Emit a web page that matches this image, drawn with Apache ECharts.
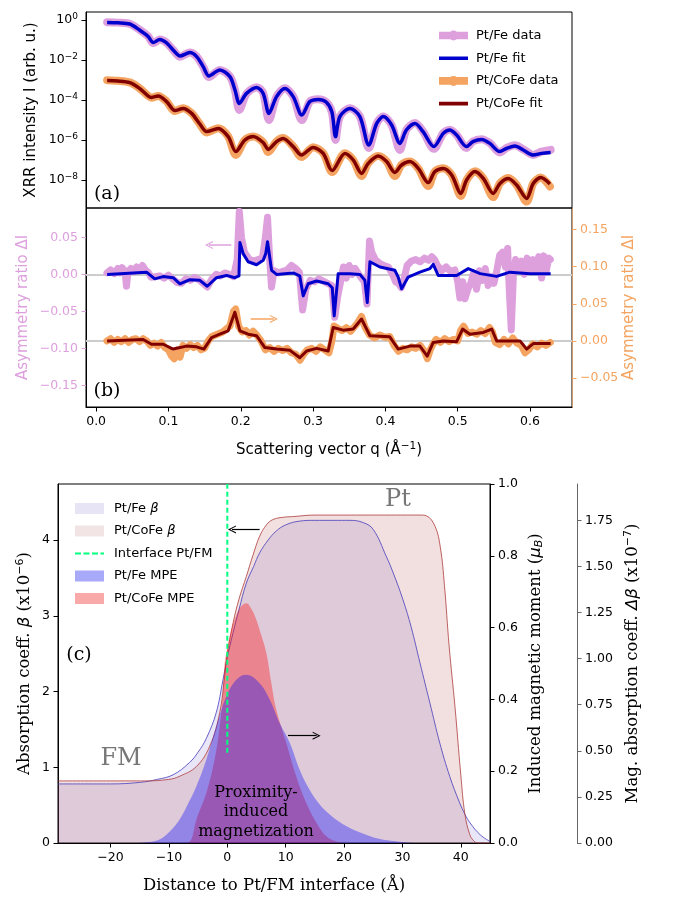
<!DOCTYPE html>
<html>
<head>
<meta charset="utf-8">
<script src="https://cdn.jsdelivr.net/npm/echarts@6/dist/echarts.min.js"></script>
<style>
  html, body { margin: 0; padding: 0; background: #fff; }
  #main { width: 678px; height: 897px; }
</style>
</head>
<body>
<div id="main"></div>
<script>
// ---------- (a) XRR curves : [q (1/Å), intensity] ----------
const feFitA = [[0.0152,0.759],[0.03,0.724],[0.0466,0.631],[0.060,0.316],[0.072,0.148],[0.079,0.0741],[0.088,0.107],[0.097,0.0741],[0.1065,0.0316],[0.116,0.0158],[0.1296,0.0234],[0.139,0.0148],[0.148,4.68e-3],[0.156,1.58e-3],[0.171,3.16e-3],[0.185,1.48e-3],[0.192,3.16e-4],[0.198,6.76e-5],[0.208,2.14e-4],[0.222,4.27e-4],[0.231,2.14e-4],[0.239,2.14e-5],[0.2495,1.48e-4],[0.261,3.80e-4],[0.2725,1.48e-4],[0.2845,1.78e-5],[0.2956,8.32e-5],[0.307,1.07e-4],[0.318,7.94e-5],[0.326,2.51e-5],[0.331,1.48e-6],[0.337,1.48e-5],[0.351,3.80e-5],[0.3647,1.48e-5],[0.377,5.62e-7],[0.388,6.76e-6],[0.397,1.48e-5],[0.4086,5.62e-6],[0.42,6.76e-7],[0.429,3.16e-6],[0.441,6.76e-6],[0.452,2.63e-6],[0.467,4.68e-7],[0.48,2.14e-6],[0.489,3.16e-6],[0.4985,1.78e-6],[0.512,4.68e-7],[0.521,8.32e-7],[0.533,1.07e-6],[0.5445,6.76e-7],[0.558,2.63e-7],[0.5676,3.80e-7],[0.579,5.01e-7],[0.5906,3.16e-7],[0.6044,1.78e-7],[0.616,2.14e-7],[0.6285,2.34e-7]];
const feDataA = [[0.0152,0.78],[0.03,0.74],[0.0466,0.64],[0.060,0.33],[0.072,0.15],[0.079,0.07],[0.088,0.105],[0.097,0.075],[0.1065,0.032],[0.116,0.0145],[0.1296,0.024],[0.139,0.015],[0.148,4.6e-3],[0.156,1.4e-3],[0.171,3.2e-3],[0.185,1.5e-3],[0.192,3.0e-4],[0.198,3.2e-5],[0.208,2.1e-4],[0.222,4.4e-4],[0.231,2.2e-4],[0.239,1.0e-5],[0.2495,1.5e-4],[0.261,3.9e-4],[0.2725,1.5e-4],[0.2845,1.0e-5],[0.2956,8.5e-5],[0.307,1.1e-4],[0.318,8.0e-5],[0.326,2.4e-5],[0.331,1.0e-6],[0.337,1.5e-5],[0.351,3.9e-5],[0.3647,1.5e-5],[0.377,4.0e-7],[0.388,6.8e-6],[0.397,1.5e-5],[0.4086,5.5e-6],[0.42,3.2e-7],[0.429,3.2e-6],[0.441,7.0e-6],[0.452,2.7e-6],[0.467,3.6e-7],[0.48,2.2e-6],[0.489,3.3e-6],[0.4985,1.8e-6],[0.512,4.0e-7],[0.521,8.5e-7],[0.533,1.1e-6],[0.5445,7.0e-7],[0.558,2.4e-7],[0.5676,4.0e-7],[0.579,5.4e-7],[0.5906,3.4e-7],[0.6044,1.8e-7],[0.616,2.6e-7],[0.6285,3.2e-7]];
const coFitA = [[0.0152,9.33e-4],[0.03,8.91e-4],[0.0466,7.41e-4],[0.060,3.80e-4],[0.072,1.58e-4],[0.0766,1.35e-4],[0.0858,1.58e-4],[0.0974,8.32e-5],[0.1089,2.95e-5],[0.1203,3.80e-5],[0.132,2.14e-5],[0.1434,6.31e-6],[0.1527,2.63e-6],[0.1688,3.80e-6],[0.1826,1.48e-6],[0.1932,2.63e-7],[0.2057,1.0e-6],[0.2172,1.48e-6],[0.231,7.41e-7],[0.238,3.39e-7],[0.2495,8.32e-7],[0.2586,1.20e-6],[0.2725,4.68e-7],[0.284,1.78e-7],[0.300,4.27e-7],[0.314,2.14e-7],[0.3264,2.95e-8],[0.344,2.14e-7],[0.3555,1.0e-7],[0.367,2.14e-8],[0.3762,6.76e-8],[0.39,1.58e-7],[0.4017,8.32e-8],[0.4131,2.40e-8],[0.4224,5.62e-8],[0.4339,8.32e-8],[0.4454,3.80e-8],[0.4592,7.41e-9],[0.4685,2.63e-8],[0.48,3.80e-8],[0.4916,1.78e-8],[0.5044,2.14e-9],[0.5123,1.0e-8],[0.5238,2.63e-8],[0.5353,1.20e-8],[0.549,2.14e-9],[0.5584,6.76e-9],[0.5699,1.20e-8],[0.5815,5.62e-9],[0.5953,1.20e-9],[0.6044,6.76e-9],[0.6147,1.32e-8],[0.6275,6.31e-9]];
const coDataA = [[0.0152,9.8e-4],[0.03,9.2e-4],[0.0466,7.6e-4],[0.060,3.9e-4],[0.072,1.6e-4],[0.0766,1.3e-4],[0.0858,1.6e-4],[0.0974,8.5e-5],[0.1089,2.8e-5],[0.1203,3.9e-5],[0.132,2.2e-5],[0.1434,6.3e-6],[0.1527,2.4e-6],[0.1688,3.9e-6],[0.1826,1.5e-6],[0.1932,1.8e-7],[0.2057,1.0e-6],[0.2172,1.5e-6],[0.231,7.6e-7],[0.238,2.5e-7],[0.2495,8.5e-7],[0.2586,1.25e-6],[0.2725,4.8e-7],[0.284,1.4e-7],[0.300,4.4e-7],[0.314,2.2e-7],[0.3264,2.5e-8],[0.344,2.2e-7],[0.3555,1.0e-7],[0.367,1.6e-8],[0.3762,7.0e-8],[0.39,1.6e-7],[0.4017,8.5e-8],[0.4131,1.6e-8],[0.4224,5.8e-8],[0.4339,8.5e-8],[0.4454,3.8e-8],[0.4592,5.0e-9],[0.4685,2.7e-8],[0.48,3.9e-8],[0.4916,1.8e-8],[0.5044,1.6e-9],[0.5123,1.0e-8],[0.5238,2.7e-8],[0.5353,1.2e-8],[0.549,1.4e-9],[0.5584,6.8e-9],[0.5699,1.25e-8],[0.5815,5.6e-9],[0.5953,8.3e-10],[0.6044,6.8e-9],[0.6147,1.35e-8],[0.6275,4.7e-9]];

// ---------- (b) asymmetry ratio : [q, ΔI] ----------
const feFitB = [[0.0152,0.0],[0.0697,0.003],[0.081,-0.006],[0.0927,-0.003],[0.1065,-0.0045],[0.1158,-0.0127],[0.1296,-0.0072],[0.1434,-0.008],[0.1536,-0.016],[0.1665,-0.0045],[0.1804,-0.0014],[0.1918,-0.0045],[0.1975,-0.002],[0.1988,0.043],[0.2033,0.028],[0.2102,0.017],[0.2218,0.013],[0.231,0.019],[0.2345,0.028],[0.237,0.044],[0.2426,0.0055],[0.2495,0.0],[0.2725,0.002],[0.2815,-0.002],[0.2863,-0.029],[0.2932,-0.0127],[0.3048,-0.009],[0.3209,-0.0127],[0.3265,-0.018],[0.3292,-0.056],[0.3347,0.001],[0.351,0.001],[0.3647,0.0],[0.3716,-0.008],[0.3749,-0.038],[0.3786,0.017],[0.3924,0.010],[0.4131,0.0055],[0.4177,-0.0036],[0.4224,-0.0195],[0.4315,-0.0036],[0.4477,0.003],[0.4615,0.0078],[0.4661,0.0136],[0.473,-0.0014],[0.4985,-0.0014],[0.5145,0.0078],[0.531,0.001],[0.5538,-0.0027],[0.572,0.003],[0.5999,0.001],[0.6285,0.001]];
const feDataB = [[0.015,0.002],[0.020,0.006],[0.025,0.001],[0.030,0.008],[0.033,0.002],[0.036,0.009],[0.040,0.004],[0.042,-0.016],[0.044,0.003],[0.048,0.008],[0.052,0.004],[0.056,0.010],[0.060,0.005],[0.064,0.012],[0.068,0.006],[0.072,0.003],[0.076,-0.004],[0.082,-0.003],[0.088,-0.002],[0.094,-0.005],[0.100,-0.001],[0.106,-0.006],[0.112,-0.011],[0.118,-0.012],[0.124,-0.006],[0.130,-0.008],[0.136,-0.004],[0.142,-0.007],[0.148,-0.012],[0.154,-0.017],[0.160,-0.006],[0.166,0.000],[0.172,-0.002],[0.178,0.002],[0.184,0.000],[0.190,-0.003],[0.195,0.020],[0.198,0.085],[0.201,0.050],[0.205,0.030],[0.212,0.020],[0.218,0.018],[0.224,0.020],[0.230,0.022],[0.234,0.050],[0.237,0.077],[0.240,0.020],[0.2425,-0.017],[0.246,0.005],[0.252,0.002],[0.258,0.004],[0.264,0.006],[0.270,0.012],[0.276,0.008],[0.281,0.003],[0.2855,-0.048],[0.290,-0.020],[0.296,-0.008],[0.302,-0.010],[0.308,-0.006],[0.314,-0.009],[0.320,-0.012],[0.326,-0.015],[0.330,-0.058],[0.334,-0.030],[0.338,-0.010],[0.342,0.010],[0.346,-0.005],[0.350,0.012],[0.354,0.000],[0.358,0.008],[0.362,0.002],[0.366,-0.004],[0.371,-0.010],[0.3745,-0.040],[0.378,0.045],[0.381,0.030],[0.386,0.020],[0.392,0.015],[0.398,0.012],[0.404,0.010],[0.410,0.000],[0.414,-0.010],[0.418,-0.012],[0.422,-0.018],[0.426,-0.005],[0.430,0.012],[0.436,0.018],[0.442,0.020],[0.448,0.017],[0.454,0.022],[0.460,0.019],[0.464,0.024],[0.468,0.020],[0.472,0.012],[0.478,0.005],[0.484,0.010],[0.490,0.004],[0.496,0.006],[0.500,-0.010],[0.503,-0.032],[0.507,-0.010],[0.510,-0.033],[0.514,-0.020],[0.518,-0.012],[0.522,0.002],[0.526,-0.020],[0.530,0.005],[0.534,-0.008],[0.538,0.008],[0.542,-0.015],[0.546,-0.003],[0.550,-0.012],[0.554,0.005],[0.558,0.026],[0.562,0.030],[0.566,0.010],[0.569,0.035],[0.571,-0.015],[0.574,-0.075],[0.577,0.000],[0.580,0.020],[0.584,0.006],[0.588,0.018],[0.592,0.000],[0.596,0.022],[0.600,0.004],[0.604,0.020],[0.608,0.006],[0.612,0.024],[0.616,-0.005],[0.619,0.025],[0.622,0.003],[0.626,0.022],[0.628,0.020]];
const coFitB = [[0.0152,0.0],[0.065,0.002],[0.0766,-0.0045],[0.0927,-0.0045],[0.1065,-0.011],[0.125,-0.007],[0.1389,-0.008],[0.149,-0.011],[0.1596,0.0045],[0.1711,0.009],[0.1826,0.0136],[0.1918,0.0386],[0.1988,0.0136],[0.2102,0.009],[0.2218,0.007],[0.2333,-0.009],[0.2495,-0.011],[0.268,-0.0127],[0.2817,-0.0227],[0.291,-0.0136],[0.3048,-0.010],[0.3209,-0.0136],[0.3278,0.018],[0.3416,0.0145],[0.3555,0.016],[0.367,0.0295],[0.3786,0.007],[0.406,0.0055],[0.4177,-0.011],[0.4339,-0.007],[0.4477,-0.007],[0.4578,-0.0204],[0.4661,-0.002],[0.48,0.0],[0.4985,-0.001],[0.5067,0.016],[0.5168,0.009],[0.5353,0.0114],[0.547,0.016],[0.5538,0.0],[0.586,0.0],[0.5953,-0.011],[0.6044,-0.0036],[0.6285,-0.0036]];
const coDataB = [[0.015,0.000],[0.020,0.003],[0.025,-0.002],[0.030,0.002],[0.035,-0.001],[0.040,0.003],[0.045,-0.002],[0.050,0.002],[0.055,0.003],[0.060,-0.001],[0.065,0.003],[0.070,0.000],[0.075,-0.006],[0.080,-0.003],[0.085,-0.007],[0.090,-0.002],[0.095,-0.009],[0.100,-0.012],[0.104,-0.020],[0.108,-0.024],[0.112,-0.012],[0.116,-0.022],[0.120,-0.006],[0.125,-0.010],[0.130,-0.005],[0.135,-0.009],[0.140,-0.006],[0.145,-0.012],[0.150,-0.010],[0.155,0.000],[0.160,0.006],[0.165,0.008],[0.170,0.010],[0.175,0.012],[0.180,0.016],[0.185,0.020],[0.190,0.040],[0.193,0.043],[0.197,0.020],[0.202,0.012],[0.207,0.014],[0.212,0.008],[0.217,0.013],[0.222,0.008],[0.228,0.000],[0.234,-0.012],[0.240,-0.009],[0.246,-0.014],[0.252,-0.010],[0.258,-0.013],[0.264,-0.010],[0.270,-0.016],[0.276,-0.018],[0.282,-0.026],[0.287,-0.018],[0.292,-0.012],[0.298,-0.010],[0.304,-0.014],[0.310,-0.008],[0.316,-0.012],[0.322,-0.016],[0.326,0.000],[0.329,0.020],[0.334,0.017],[0.340,0.014],[0.346,0.018],[0.352,0.013],[0.358,0.020],[0.362,0.025],[0.367,0.033],[0.372,0.018],[0.378,0.008],[0.385,0.004],[0.392,0.008],[0.400,0.005],[0.406,0.006],[0.412,-0.006],[0.418,-0.014],[0.424,-0.010],[0.430,-0.012],[0.436,-0.008],[0.442,-0.010],[0.448,-0.006],[0.454,-0.014],[0.458,-0.024],[0.462,-0.012],[0.466,-0.004],[0.470,0.002],[0.476,-0.002],[0.482,0.003],[0.488,-0.001],[0.494,0.002],[0.500,0.000],[0.504,0.014],[0.508,0.020],[0.514,0.010],[0.520,0.012],[0.526,0.009],[0.532,0.014],[0.538,0.010],[0.544,0.018],[0.548,0.012],[0.552,-0.002],[0.558,-0.005],[0.564,0.002],[0.570,-0.004],[0.576,0.004],[0.582,-0.003],[0.588,-0.006],[0.593,-0.016],[0.598,-0.012],[0.604,-0.004],[0.610,-0.008],[0.616,-0.003],[0.622,-0.006],[0.628,-0.002]];

// ---------- (c) depth profiles : [distance (Å), value] ----------
const feBeta = [[-29,0.78],[-20,0.78],[-15,0.80],[-12,0.84],[-9.3,0.9],[-6.5,1.06],[-5,1.2],[-3.6,1.38],[-1.9,1.72],[-0.75,2.15],[0,2.45],[1,2.78],[2,3.08],[3.26,3.43],[4.5,3.65],[5.54,3.83],[7,4.0],[8.4,4.12],[10,4.2],[12.4,4.25],[15,4.26],[18.1,4.26],[21,4.26],[23.3,4.23],[25,4.14],[27.2,3.79],[28.5,3.55],[30.1,3.21],[31.5,2.85],[33,2.38],[34.7,1.85],[36.4,1.32],[38.1,0.88],[39.8,0.53],[40.7,0.38],[41.6,0.264],[43.3,0.11],[45,0.02]];
const coBeta = [[-29,0.82],[-20,0.82],[-14,0.82],[-10,0.84],[-8.2,0.88],[-5.3,1.01],[-3,1.28],[-1.3,1.72],[-0.46,2.2],[0,2.5],[1,2.91],[2,3.22],[3.26,3.52],[4.4,3.8],[5.54,4.05],[6.7,4.2],[7.8,4.27],[9.5,4.3],[11.3,4.31],[15,4.33],[25,4.33],[33,4.33],[34.1,4.32],[35.6,4.18],[36.5,3.9],[37.2,3.4],[38,2.6],[39,1.8],[40,0.9],[40.7,0.38],[41.5,0.12],[42.2,0.03],[43,0.0],[45,0.0]];
const feMpe = [[-29,0],[-16,0],[-13.5,0.003],[-11.6,0.01],[-10,0.03],[-8.2,0.065],[-6.7,0.11],[-5.3,0.158],[-3.6,0.232],[-1.9,0.325],[-0.17,0.408],[1.54,0.455],[3.26,0.469],[5.5,0.446],[7.26,0.40],[8.97,0.334],[10.7,0.279],[12.4,0.204],[14.1,0.148],[15.8,0.108],[17.5,0.08],[19.3,0.058],[21,0.042],[23.3,0.026],[26,0.012],[30,0.003],[33,0],[45,0]];
const coMpe = [[-29,0],[-7.5,0],[-6.4,0.004],[-5.3,0.065],[-3.6,0.139],[-2.18,0.232],[-1.3,0.325],[-0.75,0.418],[-0.46,0.5],[0.1,0.55],[0.8,0.6],[1.54,0.635],[2.4,0.66],[3.26,0.668],[4.2,0.65],[4.97,0.622],[5.8,0.58],[6.69,0.529],[7.5,0.45],[8.4,0.371],[10.1,0.279],[11.8,0.186],[13.55,0.111],[15.3,0.056],[17,0.018],[18.7,0.004],[20,0],[45,0]];
const interfaceLine = [[0, 1.19], [0, 4.74]];

// ---------- tick values ----------
const logTicks = [1e-8, 1e-6, 1e-4, 1e-2, 1];
const qTicks = [0, 0.1, 0.2, 0.3, 0.4, 0.5, 0.6];
const asymTicksL = [-0.15, -0.10, -0.05, 0, 0.05];
const asymTicksR = [-0.05, 0, 0.05, 0.10, 0.15];
const zTicks = [-20, -10, 0, 10, 20, 30, 40];
const betaTicks = [0, 1, 2, 3, 4];
const momentTicks = [0, 0.2, 0.4, 0.6, 0.8, 1.0];
const dBetaTicks = [0, 0.25, 0.5, 0.75, 1.0, 1.25, 1.5, 1.75];

const SANS = 'DejaVu Sans', SERIF = 'DejaVu Serif';
const PLUM = '#DDA0DD', BLUE = '#0000CD', SANDY = '#F4A460', MAROON = '#800000';
const chevron = 'path://M0,10L5,0L10,10L8.6,10L5,2.8L1.4,10Z';
const minus = s => s.replace('-', '\u2212');

// legend icons (tiny corner specks fix the bounding box)
const fitIcon = 'path://M0,0h0.01v0.01z M0,3.2H29V6.8H0z M0,10h0.01v-0.01z';
const dataIcon = 'path://M0,0h0.01v0.01z M0,1.2H29V8.8H0z M9.5,5a5,5 0 1,1 10,0a5,5 0 1,1 -10,0z M0,10h0.01v-0.01z';
const dashIcon = 'path://M0,0h0.01v0.01z M0,4.6H6V6.4H0z M8.5,4.6H14.5V6.4H8.5z M17,4.6H23V6.4H17z M25.5,4.6H29V6.4H25.5z M0,11h0.01v-0.01z';

function axisBase(color, ticks, fmt, lineColor) {
  return {
    nameMoveOverlap: false,
    splitLine: { show: false },
    axisLine: { show: true, onZero: false, lineStyle: { color: lineColor || color, width: 1 } },
    axisTick: { show: true, length: 4.5, customValues: ticks, lineStyle: { color: color, width: 1 } },
    axisLabel: { customValues: ticks, formatter: fmt, fontFamily: SANS, fontSize: 12.5, color: color, margin: 8,
      rich: { sup: { fontFamily: SANS, fontSize: 9, color: color, padding: [0, 0, 7, 0] } } }
  };
}

const myChart = echarts.init(document.getElementById('main'), null, { renderer: 'canvas' });

const option = {
  animation: false,
  textStyle: { fontFamily: SANS },
  grid: [
    { left: 86, top: 12, width: 486, height: 196, show: true, borderColor: '#000', borderWidth: 1 },
    { left: 86, top: 208, width: 486, height: 199, show: true, borderColor: '#000', borderWidth: 1 },
    { left: 58, top: 484, width: 432, height: 359, show: true, borderColor: '#000', borderWidth: 1 }
  ],
  xAxis: [
    { gridIndex: 0, type: 'value', min: -0.014, max: 0.658,
      axisLine: { show: false }, axisTick: { show: false }, axisLabel: { show: false }, splitLine: { show: false } },
    Object.assign({ gridIndex: 1, type: 'value', min: -0.014, max: 0.658,
      name: 'Scattering vector q (Å{sup|\u22121})', nameLocation: 'middle', nameGap: 34,
      nameTextStyle: { fontFamily: SANS, fontSize: 15, color: '#000',
        rich: { sup: { fontFamily: SANS, fontSize: 10.5, color: '#000', padding: [0, 0, 7, 0] } } } },
      axisBase('#000', qTicks, v => v.toFixed(1))),
    Object.assign({ gridIndex: 2, type: 'value', min: -29, max: 45,
      name: 'Distance to Pt/FM interface (Å)', nameLocation: 'middle', nameGap: 34,
      nameTextStyle: { fontFamily: SERIF, fontSize: 16.5, color: '#000' } },
      axisBase('#000', zTicks, v => minus(String(v))))
  ],
  yAxis: [
    Object.assign({ gridIndex: 0, type: 'log', logBase: 10, min: 3.98e-10, max: 2.512,
      name: 'XRR intensity I (arb. u.)', nameLocation: 'middle', nameRotate: 90, nameGap: 47,
      nameTextStyle: { fontFamily: SANS, fontSize: 15, color: '#000' } },
      axisBase('#000', logTicks, v => '10{sup|' + minus(String(Math.round(Math.log10(v)))) + '}')),
    Object.assign({ gridIndex: 1, type: 'value', min: -0.179, max: 0.0896,
      name: 'Asymmetry ratio \u0394I', nameLocation: 'middle', nameRotate: 90, nameGap: 55,
      nameTextStyle: { fontFamily: SANS, fontSize: 15, color: PLUM } },
      axisBase(PLUM, asymTicksL, v => minus(v.toFixed(2)), '#000')),
    Object.assign({ gridIndex: 1, type: 'value', position: 'right', min: -0.089, max: 0.179,
      name: 'Asymmetry ratio \u0394I', nameLocation: 'middle', nameRotate: 90, nameGap: 50,
      nameTextStyle: { fontFamily: SANS, fontSize: 15, color: SANDY } },
      axisBase(SANDY, asymTicksR, v => minus(v.toFixed(2)), '#d2996b')),
    Object.assign({ gridIndex: 2, type: 'value', min: 0, max: 4.74,
      name: 'Absorption coeff. {i|\u03b2} (x10{sup|\u22126})', nameLocation: 'middle', nameRotate: 90, nameGap: 24,
      nameTextStyle: { fontFamily: SERIF, fontSize: 16.5, color: '#000',
        rich: { i: { fontFamily: SANS, fontStyle: 'italic', fontSize: 16.5, color: '#000' },
                sup: { fontFamily: SANS, fontSize: 11, color: '#000', padding: [0, 0, 8, 0] } } } },
      axisBase('#000', betaTicks, v => String(v))),
    Object.assign({ gridIndex: 2, type: 'value', position: 'right', min: 0, max: 1,
      name: 'Induced magnetic moment ({i|\u03bc}{sub|B})', nameLocation: 'middle', nameRotate: 90, nameGap: 36,
      nameTextStyle: { fontFamily: SERIF, fontSize: 16.5, color: '#000',
        rich: { i: { fontFamily: SANS, fontStyle: 'italic', fontSize: 16.5, color: '#000' },
                sub: { fontFamily: SANS, fontStyle: 'italic', fontSize: 11, color: '#000', padding: [8, 0, 0, 0] } } } },
      axisBase('#000', momentTicks, v => v.toFixed(1))),
    Object.assign({ gridIndex: 2, type: 'value', position: 'right', offset: 87, min: 0, max: 1.947,
      name: 'Mag. absorption coeff. {i|\u0394\u03b2} (x10{sup|\u22127})', nameLocation: 'middle', nameRotate: 90, nameGap: 46,
      nameTextStyle: { fontFamily: SERIF, fontSize: 16.5, color: '#000',
        rich: { i: { fontFamily: SANS, fontStyle: 'italic', fontSize: 16.5, color: '#000' },
                sup: { fontFamily: SANS, fontSize: 11, color: '#000', padding: [0, 0, 8, 0] } } } },
      axisBase('#666', dBetaTicks, v => v.toFixed(2)), { axisLabel: { customValues: dBetaTicks, formatter: v => v.toFixed(2),
        fontFamily: SANS, fontSize: 12.5, color: '#000', margin: 8 } })
  ],
  legend: [
    { orient: 'vertical', left: 434, top: 24, itemWidth: 29, itemHeight: 10, itemGap: 9.7, selectedMode: false,
      itemStyle: { borderWidth: 0 },
      textStyle: { fontFamily: SANS, fontSize: 13, color: '#000', padding: [0, 0, 0, 3] },
      data: [
        { name: 'Pt/Fe data', icon: dataIcon, itemStyle: { color: PLUM, borderWidth: 0 } },
        { name: 'Pt/Fe fit', icon: fitIcon, itemStyle: { color: BLUE, borderWidth: 0 } },
        { name: 'Pt/CoFe data', icon: dataIcon, itemStyle: { color: SANDY, borderWidth: 0 } },
        { name: 'Pt/CoFe fit', icon: fitIcon, itemStyle: { color: MAROON, borderWidth: 0 } }
      ] },
    { orient: 'vertical', left: 70, top: 497, itemWidth: 29, itemHeight: 11, itemGap: 9.5, selectedMode: false,
      itemStyle: { borderWidth: 0 },
      formatter: name => name.replace('\u03b2', '{i|\u03b2}'),
      textStyle: { fontFamily: SANS, fontSize: 13, color: '#000', padding: [0, 0, 0, 5],
        rich: { i: { fontFamily: SANS, fontStyle: 'italic', fontSize: 13, color: '#000' } } },
      data: [
        { name: 'Pt/Fe \u03b2', icon: 'rect', itemStyle: { color: '#e7e5f5', borderWidth: 0 } },
        { name: 'Pt/CoFe \u03b2', icon: 'rect', itemStyle: { color: '#f2e4e4', borderWidth: 0 } },
        { name: 'Interface Pt/FM', icon: dashIcon, itemStyle: { color: '#00FF7F', borderWidth: 0 } },
        { name: 'Pt/Fe MPE', icon: 'rect', itemStyle: { color: '#a9a9fa', borderWidth: 0 } },
        { name: 'Pt/CoFe MPE', icon: 'rect', itemStyle: { color: '#faa9a9', borderWidth: 0 } }
      ] }
  ],
  series: [
    // (a)
    { name: 'Pt/Fe data', type: 'line', xAxisIndex: 0, yAxisIndex: 0, data: feDataA, smooth: 0.3,
      symbol: 'circle', showSymbol: false, lineStyle: { color: PLUM, width: 8, cap: 'round', join: 'round' }, itemStyle: { color: PLUM }, z: 2 },
    { name: 'Pt/Fe fit', type: 'line', xAxisIndex: 0, yAxisIndex: 0, data: feFitA, smooth: 0.3,
      symbol: 'none', lineStyle: { color: BLUE, width: 3.5 }, itemStyle: { color: BLUE }, z: 3 },
    { name: 'Pt/CoFe data', type: 'line', xAxisIndex: 0, yAxisIndex: 0, data: coDataA, smooth: 0.3,
      symbol: 'circle', showSymbol: false, lineStyle: { color: SANDY, width: 8, cap: 'round', join: 'round' }, itemStyle: { color: SANDY }, z: 2 },
    { name: 'Pt/CoFe fit', type: 'line', xAxisIndex: 0, yAxisIndex: 0, data: coFitA, smooth: 0.3,
      symbol: 'none', lineStyle: { color: MAROON, width: 3.5 }, itemStyle: { color: MAROON }, z: 3 },
    // (b)
    { name: 'Pt/Fe data', type: 'line', xAxisIndex: 1, yAxisIndex: 1, data: feDataB,
      symbol: 'none', lineStyle: { color: PLUM, width: 7, cap: 'round', join: 'round' }, itemStyle: { color: PLUM }, z: 2,
      markLine: { silent: true, z: 1, symbol: 'none', label: { show: false }, emphasis: { disabled: true },
        lineStyle: { color: '#cccccc', width: 2, type: 'solid' },
        data: [
          { yAxis: 0 },
          [{ coord: [0.187, 0.0396], symbol: 'none' },
           { coord: [0.156, 0.0396], symbol: chevron, symbolSize: [8, 8], lineStyle: { color: PLUM, width: 1.5 } }]
        ] } },
    { name: 'Pt/Fe fit', type: 'line', xAxisIndex: 1, yAxisIndex: 1, data: feFitB,
      symbol: 'none', lineStyle: { color: BLUE, width: 3, join: 'round' }, itemStyle: { color: BLUE }, z: 3 },
    { name: 'Pt/CoFe data', type: 'line', xAxisIndex: 1, yAxisIndex: 2, data: coDataB,
      symbol: 'none', lineStyle: { color: SANDY, width: 7, cap: 'round', join: 'round' }, itemStyle: { color: SANDY }, z: 2,
      markLine: { silent: true, z: 1, symbol: 'none', label: { show: false }, emphasis: { disabled: true },
        lineStyle: { color: '#cccccc', width: 2, type: 'solid' },
        data: [
          { yAxis: 0 },
          [{ coord: [0.2136, 0.0296], symbol: 'none' },
           { coord: [0.2458, 0.0296], symbol: chevron, symbolSize: [8, 8], lineStyle: { color: SANDY, width: 1.5 } }]
        ] } },
    { name: 'Pt/CoFe fit', type: 'line', xAxisIndex: 1, yAxisIndex: 2, data: coFitB,
      symbol: 'none', lineStyle: { color: MAROON, width: 3, join: 'round' }, itemStyle: { color: MAROON }, z: 3 },
    // (c)
    { name: 'Pt/Fe \u03b2', type: 'line', xAxisIndex: 2, yAxisIndex: 3, data: feBeta, smooth: 0.4, symbol: 'none',
      lineStyle: { color: 'rgba(80,70,190,0.85)', width: 1 }, areaStyle: { color: 'rgba(106,90,205,0.15)', opacity: 1 },
      itemStyle: { color: '#6a5acd' }, z: 2 },
    { name: 'Pt/CoFe \u03b2', type: 'line', xAxisIndex: 2, yAxisIndex: 3, data: coBeta, smooth: 0.4, symbol: 'none',
      lineStyle: { color: 'rgba(175,60,60,0.8)', width: 1 }, areaStyle: { color: 'rgba(165,42,42,0.15)', opacity: 1 },
      itemStyle: { color: '#a52a2a' }, z: 2 },
    { name: 'Pt/CoFe MPE', type: 'line', xAxisIndex: 2, yAxisIndex: 4, data: coMpe, smooth: 0.4, symbol: 'none',
      lineStyle: { width: 0 }, areaStyle: { color: 'rgba(255,0,0,0.34)', opacity: 1 }, itemStyle: { color: '#ff0000' }, z: 3 },
    { name: 'Pt/Fe MPE', type: 'line', xAxisIndex: 2, yAxisIndex: 4, data: feMpe, smooth: 0.4, symbol: 'none',
      lineStyle: { width: 0 }, areaStyle: { color: 'rgba(0,0,255,0.34)', opacity: 1 }, itemStyle: { color: '#0000ff' }, z: 4,
      markLine: { silent: true, symbol: 'none', label: { show: false }, emphasis: { disabled: true },
        lineStyle: { color: '#000', width: 1.2, type: 'solid' },
        data: [[{ coord: [10.4, 0.299], symbol: 'none' }, { coord: [15.3, 0.299], symbol: chevron, symbolSize: [8, 8] }]] } },
    { name: 'Interface Pt/FM', type: 'line', xAxisIndex: 2, yAxisIndex: 3, data: interfaceLine, symbol: 'none',
      lineStyle: { color: '#00FF7F', width: 2, type: [5, 3] }, itemStyle: { color: '#00FF7F' }, z: 5,
      markLine: { silent: true, symbol: 'none', label: { show: false }, emphasis: { disabled: true },
        lineStyle: { color: '#000', width: 1.2, type: 'solid' },
        data: [[{ coord: [5.54, 4.14], symbol: 'none' }, { coord: [0.8, 4.14], symbol: chevron, symbolSize: [8, 8] }]] } }
  ],
  graphic: [
    { type: 'text', x: 107, y: 194, z: 100, style: { text: '(a)', font: '19px "DejaVu Serif"', fill: '#000', align: 'center', verticalAlign: 'middle' } },
    { type: 'text', x: 107, y: 391, z: 100, style: { text: '(b)', font: '19px "DejaVu Serif"', fill: '#000', align: 'center', verticalAlign: 'middle' } },
    { type: 'text', x: 79, y: 655, z: 100, style: { text: '(c)', font: '19px "DejaVu Serif"', fill: '#000', align: 'center', verticalAlign: 'middle' } },
    { type: 'text', x: 121, y: 759, z: 100, style: { text: 'FM', font: '24px "DejaVu Serif"', fill: '#777', align: 'center', verticalAlign: 'middle' } },
    { type: 'text', x: 398, y: 500, z: 100, style: { text: 'Pt', font: '24px "DejaVu Serif"', fill: '#777', align: 'center', verticalAlign: 'middle' } },
    { type: 'text', x: 256, y: 812, z: 100, style: { text: 'Proximity-\ninduced\nmagnetization', font: '16px "DejaVu Serif"', lineHeight: 19.5, fill: '#000', align: 'center', verticalAlign: 'middle' } }
  ]
};

myChart.setOption(option);
</script>
</body>
</html>
